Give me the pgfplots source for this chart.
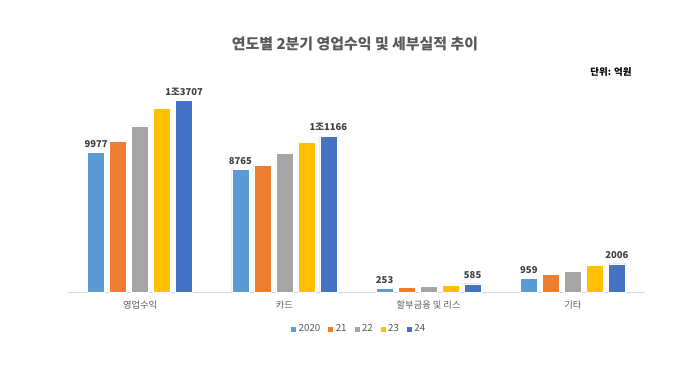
\documentclass[border=0pt]{standalone}
\usepackage{pgfplots}
\pgfplotsset{compat=1.18}
\usepackage{fontspec}
\setmainfont{Noto Sans CJK KR}
\definecolor{cA}{HTML}{5B9BD5}
\definecolor{cB}{HTML}{ED7D31}
\definecolor{cC}{HTML}{A5A5A5}
\definecolor{cD}{HTML}{FFC000}
\definecolor{cE}{HTML}{4472C4}
\definecolor{txt}{HTML}{595959}
\definecolor{lbl}{HTML}{404040}
\definecolor{axl}{HTML}{D9D9D9}
\begin{document}
\begin{tikzpicture}
\fill[white] (0,0) rectangle (680bp,368bp);
\path[use as bounding box] (0,0) rectangle (680bp,368bp);
\node[font=\fontsize{15}{17}\selectfont\bfseries, text=txt] at (355bp,324bp) {연도별 2분기 영업수익 및 세부실적 추이};
\node[font=\fontsize{9.5}{11}\selectfont\bfseries, text=black] at (611bp,296bp) {단위: 억원};
\begin{axis}[
  at={(68bp,76bp)}, anchor=south west,
  scale only axis, width=577bp, height=223.5bp,
  xmin=-0.5, xmax=3.5, ymin=0, ymax=16000,
  ybar=5bp, bar width=17bp,
  axis x line*=bottom, axis y line=none,
  x axis line style={axl, line width=0.8bp},
  xtick={0,1,2,3}, xticklabels={영업수익, 카드, 할부금융 및 리스, 기타},
  major tick length=0pt,
  xticklabel style={font=\fontsize{9.3}{10}\selectfont, text=txt, yshift=-5bp},
  ytick=\empty,
  clip=false,
  legend columns=-1,
  legend style={at={(rel axis cs:0.504,-0.166)}, anchor=center, draw=none, fill=none,
    font=\fontsize{9.8}{10}\selectfont, text=txt,
    /tikz/every even column/.append style={column sep=5bp}},
  legend image code/.code={\fill[#1] (0bp,-3bp) rectangle (6bp,3bp);},
  nodes near coords style={font=\fontsize{9.5}{11}\selectfont\bfseries, text=lbl, yshift=1.5bp},
]
\addplot[fill=cA, draw=white, line width=0.4bp, point meta=explicit symbolic, nodes near coords]
  coordinates {(0,9977) [9977] (1,8765) [8765] (2,253) [253] (3,959) [959]};
\addplot[fill=cB, draw=white, line width=0.4bp]
  coordinates {(0,10770) (1,9090) (2,330) (3,1240)};
\addplot[fill=cC, draw=white, line width=0.4bp]
  coordinates {(0,11890) (1,9930) (2,420) (3,1455)};
\addplot[fill=cD, draw=white, line width=0.4bp]
  coordinates {(0,13150) (1,10720) (2,500) (3,1915)};
\addplot[fill=cE, draw=white, line width=0.4bp, point meta=explicit symbolic, nodes near coords]
  coordinates {(0,13707) [1조3707] (1,11166) [1조1166] (2,585) [585] (3,2006) [2006]};
\legend{2020, 21, 22, 23, 24}
\end{axis}
\end{tikzpicture}
\end{document}
